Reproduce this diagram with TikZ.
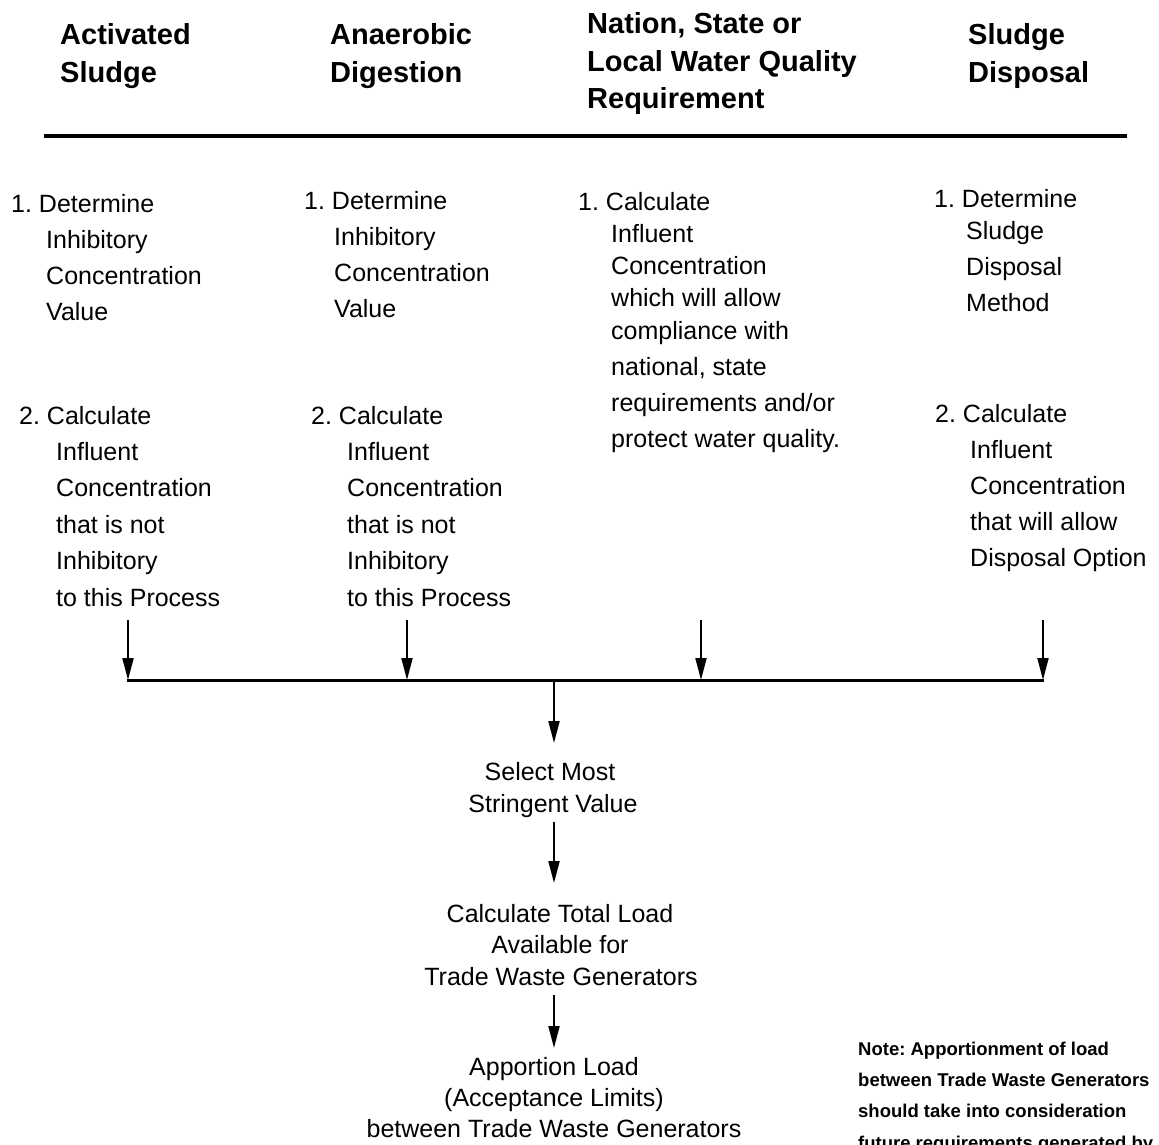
\documentclass[tikz,border=0pt]{standalone}
\usepackage{fontspec}
\setmainfont{Liberation Sans}
\usetikzlibrary{arrows.meta}
\frenchspacing
\begin{document}
\begin{tikzpicture}[x=1pt,y=-1pt,
  head/.style={font=\bfseries\fontsize{29}{34}\selectfont, anchor=base west, inner sep=0pt},
  body/.style={font=\fontsize{25}{30}\selectfont, anchor=base west, inner sep=0pt},
  mid/.style={font=\fontsize{25}{30}\selectfont, anchor=base, inner sep=0pt},
  note/.style={font=\bfseries\fontsize{18.5}{22}\selectfont, anchor=base west, inner sep=0pt},
  arr/.style={line width=2pt, -{Triangle[width=11pt,length=22pt]}},
  bus/.style={line width=3pt},
  rulestyle/.style={line width=4.5pt}]
\useasboundingbox (0,0) rectangle (1159,1144);
\clip (0,0) rectangle (1159,1144);

% headers
\node[head] (h1a) at (60,44) {Activated};
\node[head] (h1b) at (60,82) {Sludge};
\node[head] (h2a) at (330,44) {Anaerobic};
\node[head] (h2b) at (330,82) {Digestion};
\node[head] (h3a) at (587,33) {Nation, State or};
\node[head] (h3b) at (587,71) {Local Water Quality};
\node[head] (h3c) at (587,108) {Requirement};
\node[head] (h4a) at (968,44) {Sludge};
\node[head] (h4b) at (968,82) {Disposal};

\coordinate (rl) at (44,136);
\coordinate (rr) at (1127,136);
\draw[rulestyle] (rl) -- (rr);

% column 1
\node[body] (c1s1) at (11,212) {1. Determine};
\foreach \t [count=\i from 1] in {Inhibitory,Concentration,Value}
  \node[body] (c1s1l\i) at (46,212+36*\i) {\t};
\node[body] (c1s2) at (19,424) {2. Calculate};
\foreach \t [count=\i from 1] in {Influent,Concentration,that is not,Inhibitory,to this Process}
  \node[body] (c1s2l\i) at (56,424+36.4*\i) {\t};

% column 2
\node[body] (c2s1) at (304,209) {1. Determine};
\foreach \t [count=\i from 1] in {Inhibitory,Concentration,Value}
  \node[body] (c2s1l\i) at (334,209+36*\i) {\t};
\node[body] (c2s2) at (311,424) {2. Calculate};
\foreach \t [count=\i from 1] in {Influent,Concentration,that is not,Inhibitory,to this Process}
  \node[body] (c2s2l\i) at (347,424+36.4*\i) {\t};

% column 3
\node[body] (c3s1) at (578,210) {1. Calculate};
\node[body] (c3l1) at (611,242) {Influent};
\node[body] (c3l2) at (611,274) {Concentration};
\node[body] (c3l3) at (611,306) {which will allow};
\node[body] (c3l4) at (611,339) {compliance with};
\node[body] (c3l5) at (611,375) {national, state};
\node[body] (c3l6) at (611,411) {requirements and/or};
\node[body] (c3l7) at (611,447) {protect water quality.};

% column 4
\node[body] (c4s1) at (934,207) {1. Determine};
\foreach \t [count=\i from 1] in {Sludge,Disposal,Method}
  \node[body] (c4s1l\i) at (966,203+36*\i) {\t};
\node[body] (c4s2) at (935,422) {2. Calculate};
\foreach \t [count=\i from 1] in {Influent,Concentration,that will allow,Disposal Option}
  \node[body] (c4s2l\i) at (970,422+36*\i) {\t};

% arrows to bus
\coordinate (t1) at (128,620);
\coordinate (t2) at (407,620);
\coordinate (t3) at (701,620);
\coordinate (t4) at (1043,620);
\coordinate (b1) at (128,680);
\coordinate (b2) at (407,680);
\coordinate (b3) at (701,680);
\coordinate (b4) at (1043,680);
\coordinate (bm) at (554,680);
\draw[bus] ([xshift=-1pt]b1) -- ([xshift=1pt]b4);
\draw[arr] (t1) -- (b1);
\draw[arr] (t2) -- (b2);
\draw[arr] (t3) -- (b3);
\draw[arr] (t4) -- (b4);

% centre column
\node[mid] (s1) at (550,780) {Select Most};
\node[mid] (s2) at (553,812) {Stringent Value};
\node[mid] (l1) at (560,922) {Calculate Total Load};
\node[mid] (l2) at (560,953) {Available for};
\node[mid] (l3) at (561,985) {Trade Waste Generators};
\node[mid] (p1) at (554,1075) {Apportion Load};
\node[mid] (p2) at (554,1106) {(Acceptance Limits)};
\node[mid] (p3) at (554,1137) {between Trade Waste Generators};

\coordinate (a1e) at (554,743);
\coordinate (a2s) at (554,822);
\coordinate (a2e) at (554,883);
\coordinate (a3s) at (554,995);
\coordinate (a3e) at (554,1048);
\draw[arr] (bm) -- (a1e);
\draw[arr] (a2s) -- (a2e);
\draw[arr] (a3s) -- (a3e);

% note
\node[note] (n1) at (858,1055) {Note: Apportionment of load};
\node[note] (n2) at (858,1086) {between Trade Waste Generators};
\node[note] (n3) at (858,1117) {should take into consideration};
\node[note] (n4) at (858,1149) {future requirements generated by};
\end{tikzpicture}
\end{document}
